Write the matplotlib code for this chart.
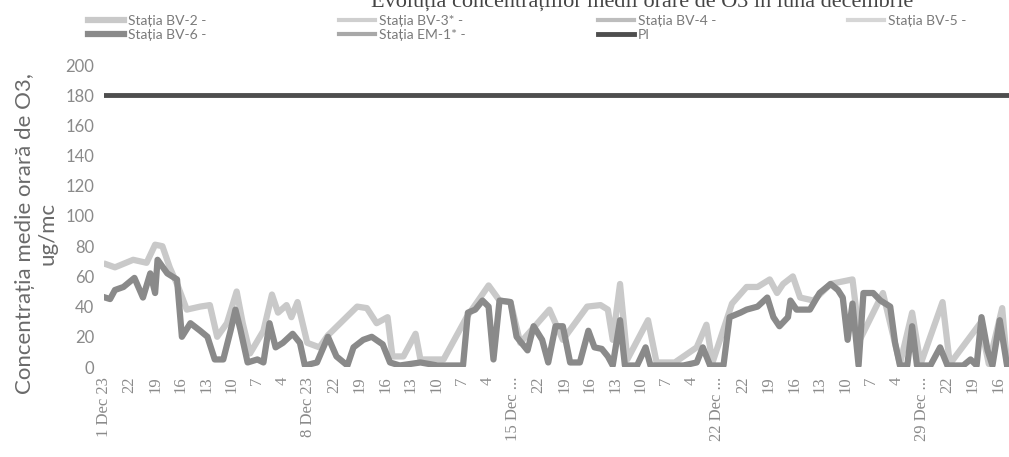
import matplotlib
matplotlib.use('Agg')
import matplotlib.pyplot as plt

# hour index from 1 Dec 01:00 (ug/mc)
hours_bv6 = [1, 5, 9, 16, 25, 32, 38, 42, 44, 52, 60, 64, 71, 79, 85, 91, 98, 104, 108, 112,
             118, 126, 131, 136, 141, 147, 155, 161, 165, 175, 184, 191, 200, 205, 213, 220,
             229, 235, 243, 260, 274, 287, 295, 299, 305, 311, 316, 320, 325, 334, 339, 348,
             353, 360, 365, 371, 377, 383, 391, 398, 403, 409, 414, 418, 424, 428, 438, 445,
             449, 463, 476, 487, 492, 498, 509, 514, 523, 528, 537, 545, 550, 555, 562, 564,
             569, 580, 588, 597, 603, 607, 611, 615, 620, 624, 632, 638, 646, 650, 654, 660,
             664, 668, 679, 687, 693, 706, 712, 717, 721, 726, 730, 736, 742]
vals_bv6 = [46, 45, 51, 53, 59, 46, 62, 49, 71, 62, 58, 20, 29, 24, 20, 5, 5, 24, 38, 25,
            3, 5, 3, 29, 13, 16, 22, 16, 1, 3, 20, 7, 1, 13, 18, 20,
            15, 3, 1, 3, 1, 1, 1, 36, 38, 44, 40, 5, 44, 43, 20, 11,
            27, 18, 3, 27, 27, 3, 3, 24, 13, 12, 7, 1, 31, 1, 1, 13,
            1, 1, 1, 3, 13, 1, 1, 33, 36, 38, 40, 46, 33, 27, 33, 44,
            38, 38, 49, 55, 51, 46, 18, 42, 1, 49, 49, 44, 40, 16, 1, 1,
            27, 1, 1, 13, 1, 1, 5, 1, 33, 11, 1, 31, 1]

hours_bv2 = [2, 9, 24, 35, 42, 48, 54, 61, 68, 79, 87, 93, 101, 109, 114, 120, 131, 138, 143,
             150, 154, 159, 167, 177, 184, 208, 216, 224, 233, 237, 246, 256, 260, 279, 298,
             316, 325, 334, 342, 366, 377, 397, 408, 414, 418, 424, 430, 447, 454, 469, 487,
             495, 500, 516, 528, 537, 547, 553, 558, 566, 572, 583, 597, 615, 621, 640, 654,
             664, 671, 689, 695, 720, 727, 738, 742]
vals_bv2 = [68, 66, 71, 69, 81, 80, 66, 53, 38, 40, 41, 20, 29, 50, 29, 9, 24, 48, 36,
            41, 33, 43, 16, 13, 21, 40, 39, 29, 33, 7, 7, 22, 5, 5, 33,
            54, 44, 43, 16, 38, 18, 40, 41, 38, 18, 55, 5, 31, 3, 3, 13,
            28, 3, 42, 53, 53, 58, 49, 55, 60, 46, 44, 55, 58, 18, 49, 2,
            36, 2, 43, 2, 29, 2, 39, 2]

pi_hours = [0, 743]
pi_vals = [180, 180]

tick_hours = list(range(0, 744, 21))
tick_text = ['1 Dec 23', '22', '19', '16', '13', '10', '7', '4',
             '8 Dec 23', '22', '19', '16', '13', '10', '7', '4',
             '15 Dec ...', '22', '19', '16', '13', '10', '7', '4',
             '22 Dec ...', '22', '19', '16', '13', '10', '7', '4',
             '29 Dec ...', '22', '19', '16']
y_ticks = list(range(0, 201, 20))

plt.rcParams['font.family'] = ['Lato', 'DejaVu Sans']

fig = plt.figure(figsize=(10.09, 4.57), dpi=100)
ax = fig.add_axes([104 / 1009, 1 - 367 / 457, 905 / 1009, 302 / 457])

# empty stations kept for the legend
l2, = ax.plot(hours_bv2, vals_bv2, color='#c9c9c9', lw=4.5, solid_joinstyle='round')
l3, = ax.plot([], [], color='#cfcfcf', lw=3)
l4, = ax.plot([], [], color='#bdbdbd', lw=3)
l5, = ax.plot([], [], color='#d6d6d6', lw=3)
l6, = ax.plot(hours_bv6, vals_bv6, color='#8a8a8a', lw=4.5, solid_joinstyle='round')
le, = ax.plot([], [], color='#a8a8a8', lw=3)
lp, = ax.plot(pi_hours, pi_vals, color='#4e4e4e', lw=3.5)

ax.set_xlim(0, 743.6)
ax.set_ylim(0, 200)
for s in ax.spines.values():
    s.set_visible(False)
ax.tick_params(length=0, colors='#7a7a7a')
ax.set_yticks(y_ticks)
ax.set_yticklabels([str(v) for v in y_ticks], fontsize=12, color='#8a8a8a')
ax.set_xticks(tick_hours)
ax.set_xticklabels(tick_text, rotation=90, fontsize=12, color='#8a8a8a',
                   family='Liberation Serif')
ax.tick_params(axis='y', pad=7)
ax.tick_params(axis='x', pad=7)

fig.text(0.036, 0.49, 'Concentrația medie orară de O3,\nug/mc', rotation=90,
         ha='center', va='center', multialignment='center', fontsize=16,
         color='#6a6a6a', linespacing=1.15)

# title is cut by the top edge in the scanned original
fig.text(913 / 1009, 1.015, 'Evoluția concentrațiilor medii orare de O3 în luna decembrie',
         ha='right', va='top', fontsize=16, color='#444444', family='Liberation Serif')

handles = [l2, l6, l3, le, l4, lp, l5]
labels = ['Stația BV-2 -', 'Stația BV-6 -', 'Stația BV-3* -', 'Stația EM-1* -',
          'Stația BV-4 -', 'PI', 'Stația BV-5 -']
fig.legend(handles, labels, ncol=4, loc='upper left', bbox_to_anchor=(0.075, 0.995),
           frameon=False, fontsize=10, labelcolor='#7a7a7a', handlelength=2.6,
           handletextpad=0.3, columnspacing=9.5, labelspacing=0.15)

fig.savefig('out.png', dpi=100)
